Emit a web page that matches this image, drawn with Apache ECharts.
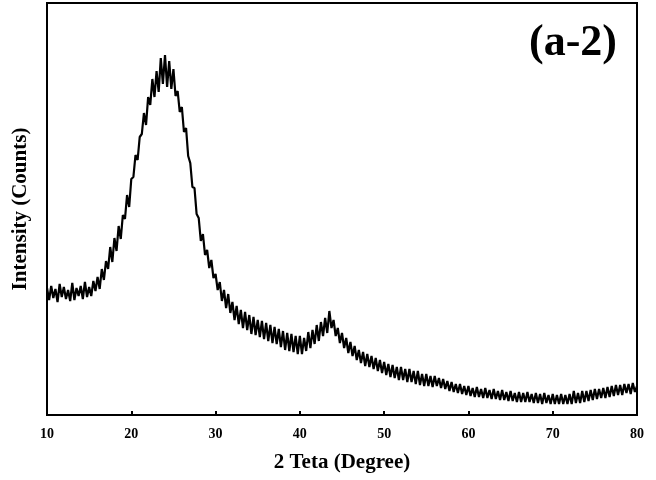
<!DOCTYPE html>
<html>
<head>
<meta charset="utf-8">
<script src="https://cdn.jsdelivr.net/npm/echarts@6/dist/echarts.min.js"></script>
<style>
  html, body { margin: 0; padding: 0; background: #fff; }
  #xrdChart { width: 656px; height: 480px; }
</style>
</head>
<body>
<div id="xrdChart"></div>
<script>
// scan grid of the pattern (degrees)
var startAngle = 10
var stepAngle = 0.25

// intensity, one row per degree (x.00, x.25, x.50, x.75)
var intensity = [
    127, 115, 129, 117,
    126, 113, 131, 118,
    128, 116, 125, 114,
    132, 115, 127, 119,
    129, 116, 133, 118,
    128, 119, 134, 124,
    138, 126, 146, 135,
    154, 146, 168, 153,
    177, 164, 189, 176,
    200, 196, 220, 208,
    236, 238, 260, 255,
    278, 281, 302, 290,
    318, 310, 336, 318,
    344, 323, 357, 331,
    360, 328, 354, 326,
    346, 319, 324, 303,
    308, 283, 287, 259,
    252, 228, 227, 201,
    197, 174, 181, 160,
    165, 147, 155, 137,
    141, 125, 133, 114,
    125, 107, 121, 102,
    113, 95, 109, 91,
    105, 87, 103, 85,
    100, 81, 98, 80,
    95, 78, 94, 76,
    92, 74, 90, 72,
    88, 71, 86, 68,
    84, 65, 82, 64,
    81, 63, 79, 61,
    79, 61, 77, 64,
    83, 67, 85, 71,
    90, 74, 93, 79,
    97, 82, 104, 87,
    95, 79, 87, 72,
    82, 67, 77, 62,
    73, 59, 69, 55,
    65, 52, 63, 49,
    61, 48, 59, 46,
    57, 44, 55, 42,
    53, 40, 51, 38,
    50, 37, 48, 35,
    48, 35, 46, 33,
    46, 33, 44, 31,
    44, 30, 41, 29,
    41, 29, 39, 28,
    39, 29, 37, 27,
    36, 26, 34, 24,
    33, 23, 31, 22,
    31, 21, 29, 20,
    29, 19, 27, 18,
    28, 18, 26, 17,
    27, 17, 25, 16,
    26, 16, 24, 15,
    25, 15, 23, 14,
    24, 14, 22, 13,
    23, 13, 22, 13,
    23, 13, 21, 12,
    22, 12, 21, 11,
    22, 12, 20, 11,
    21, 11, 20, 11,
    21, 11, 20, 11,
    21, 11, 24, 12,
    22, 12, 24, 13,
    24, 14, 25, 15,
    26, 16, 26, 17,
    27, 17, 28, 18,
    29, 19, 30, 20,
    30, 20, 31, 22,
    31, 21, 32, 23,
    29
]

var xTicks = [10, 20, 30, 40, 50, 60, 70, 80]
var panelLabel = '(a-2)'

var serif = '"Liberation Serif", "Times New Roman", serif'

var points = []
for (let i = 0; i < intensity.length; i++) {
    points.push([startAngle + i * stepAngle, intensity[i]])
}

option = {
    animation: false,
    backgroundColor: '#ffffff',
    grid: {
        left: 47,
        right: 19,
        top: 3,
        bottom: 65,
        show: true,
        borderColor: '#000',
        borderWidth: 2,
        outerBoundsMode: 'none'
    },
    xAxis: {
        type: 'value',
        min: xTicks[0],
        max: xTicks[xTicks.length - 1],
        interval: 10,
        name: '2 Teta (Degree)',
        nameLocation: 'middle',
        nameGap: 37,
        nameTextStyle: {
            fontFamily: serif,
            fontWeight: 'bold',
            fontSize: 21,
            color: '#000'
        },
        axisLine: { lineStyle: { color: '#000', width: 2 } },
        axisTick: { inside: true, length: 4, lineStyle: { color: '#000', width: 2 } },
        axisLabel: {
            margin: 12,
            fontFamily: serif,
            fontWeight: 'bold',
            fontSize: 14,
            color: '#000'
        },
        splitLine: { show: false }
    },
    yAxis: {
        type: 'value',
        min: 0,
        max: 412,
        name: 'Intensity (Counts)',
        nameLocation: 'middle',
        nameGap: 16,
        nameTextStyle: {
            fontFamily: serif,
            fontWeight: 'bold',
            fontSize: 21,
            color: '#000'
        },
        axisLine: { show: true, lineStyle: { color: '#000', width: 2 } },
        axisTick: { show: false },
        axisLabel: { show: false },
        splitLine: { show: false }
    },
    graphic: [
        {
            type: 'text',
            right: 39,
            top: 22,
            style: {
                text: panelLabel,
                font: 'bold 44px ' + serif,
                fill: '#000'
            }
        }
    ],
    series: [
        {
            type: 'line',
            data: points,
            showSymbol: false,
            lineStyle: { color: '#000', width: 2.2 }
        }
    ]
};

var myChart = echarts.init(document.getElementById('xrdChart'));
myChart.setOption(option);
</script>
</body>
</html>
